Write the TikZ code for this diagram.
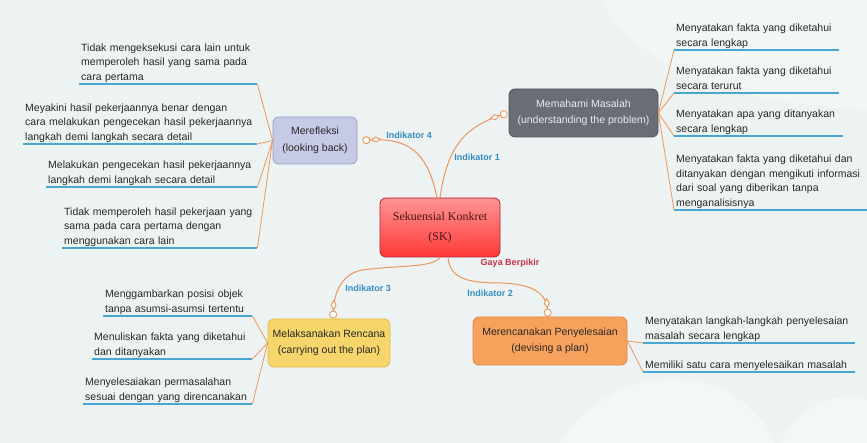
\documentclass[tikz,border=0pt]{standalone}
\usepackage{fontspec}
\setmainfont{Liberation Sans}
\newfontfamily\serifsk{Liberation Serif}
\usetikzlibrary{arrows.meta}
\definecolor{bg}{RGB}{237,243,242}
\definecolor{conn}{RGB}{236,150,92}
\definecolor{ulc}{RGB}{70,168,208}
\definecolor{lblue}{RGB}{56,140,196}
\definecolor{lred}{RGB}{206,50,72}
\definecolor{txt}{RGB}{40,40,40}
\definecolor{merfill}{RGB}{198,202,230}
\definecolor{merdraw}{RGB}{150,156,196}
\definecolor{memfill}{RGB}{106,109,118}
\definecolor{memdraw}{RGB}{80,83,90}
\definecolor{melfill}{RGB}{246,214,106}
\definecolor{meldraw}{RGB}{226,186,74}
\definecolor{mrcfill}{RGB}{247,162,92}
\definecolor{mrcdraw}{RGB}{226,134,70}
\definecolor{skdraw}{RGB}{176,34,48}
\definecolor{sktext}{RGB}{70,22,22}
\newcommand{\leafstrut}{\rule[-2.6pt]{0pt}{2pt}}
\tikzset{
  branch/.style={rounded corners=6pt, line width=0.8pt, align=center, inner sep=0pt,
    font=\fontsize{10.5}{16.5}\selectfont, text=txt},
  leaf/.style={font=\fontsize{10.5}{14.5}\selectfont, align=left, anchor=south west,
    inner xsep=2pt, inner ysep=1pt, text=txt},
  uline/.style={ulc, line width=2.6pt},
  leafconn/.style={conn, line width=0.8pt},
  mainconn/.style={conn, line width=1pt,
    -{Diamond[fill=white,length=11pt,width=6pt,line width=0.9pt] Circle[fill=white,length=8pt,line width=0.9pt]}},
  ind/.style={font=\bfseries\fontsize{9}{11}\selectfont, text=lblue, inner sep=1pt},
}
\begin{document}
\begin{tikzpicture}[x=1pt,y=-1pt]
\useasboundingbox (0,0) rectangle (867,443);
\fill[bg] (0,0) rectangle (867,443);
\fill[white,opacity=0.35] (560,443) .. controls (600,380) and (680,360) .. (740,400) .. controls (760,415) and (770,430) .. (775,443) -- cycle;
\fill[white,opacity=0.35] (780,443) .. controls (800,400) and (850,390) .. (867,400) -- (867,443) -- cycle;
\fill[white,opacity=0.3] (600,0) .. controls (640,60) and (700,100) .. (867,110) -- (867,0) -- cycle;

% central node
\node[rounded corners=6pt, draw=skdraw, line width=0.8pt, top color=red!42!white, bottom color=red!78!white,
  minimum width=120pt, minimum height=59pt, align=center, inner sep=0pt,
  font=\serifsk\fontsize{12}{20}\selectfont, text=sktext] (sk) at (440,227.5) {Sekuensial Konkret\\(SK)};

% branch nodes
\node[branch, fill=merfill, draw=merdraw, minimum width=84pt, minimum height=47pt] (mer) at (315,140.5) {Merefleksi\\(looking back)};
\node[branch, fill=memfill, draw=memdraw, text=white!92!black, minimum width=149pt, minimum height=48pt] (mem) at (583.5,113) {Memahami Masalah\\(understanding the problem)};
\node[branch, fill=melfill, draw=meldraw, minimum width=122pt, minimum height=48pt] (mel) at (329,343) {Melaksanakan Rencana\\(carrying out the plan)};
\node[branch, fill=mrcfill, draw=mrcdraw, minimum width=154pt, minimum height=48pt] (mrc) at (550,341) {Merencanakan Penyelesaian\\(devising a plan)};

% main connectors
\draw[mainconn] ([xshift=-3pt]sk.north) .. controls (429,160) and (415,137) .. ([xshift=5pt]mer.east);
\draw[mainconn] (sk.north) .. controls (447,150) and (462,128) .. ([xshift=-1pt]mem.west);
\draw[mainconn] (sk.south) .. controls (432,268) and (400,265) .. (362,270) .. controls (342,274) and (334,292) .. ([xshift=4pt]mel.north);
\draw[mainconn] ([xshift=8pt]sk.south) .. controls (450,280) and (470,283) .. (502,283) .. controls (532,284) and (546,293) .. ([xshift=-2pt]mrc.north);

% labels
\node[ind] (i4) at (409,135) {Indikator 4};
\node[ind] (i1) at (477,157) {Indikator 1};
\node[ind] (i3) at (368,288) {Indikator 3};
\node[ind] (i2) at (490,293) {Indikator 2};
\node[ind, text=lred] (gb) at (510,263) {Gaya Berpikir};

% Merefleksi leaves
\node[leaf, text width=174pt] (mr1) at (79,84) {Tidak mengeksekusi cara lain untuk\\memperoleh hasil yang sama pada\\cara pertama\leafstrut};
\node[leaf, text width=230pt] (mr2) at (23,144) {Meyakini hasil pekerjaannya benar dengan\\cara melakukan pengecekan hasil pekerjaannya\\langkah demi langkah secara detail\leafstrut};
\node[leaf, text width=207pt] (mr3) at (46,187) {Melakukan pengecekan hasil pekerjaannya\\langkah demi langkah secara detail\leafstrut};
\node[leaf, text width=191pt] (mr4) at (62,248) {Tidak memperoleh hasil pekerjaan yang\\sama pada cara pertama dengan\\menggunakan cara lain\leafstrut};
\foreach \l in {mr1,mr2,mr3,mr4}{
  \draw[uline] (\l.south west) -- (\l.south east);
  \draw[leafconn] (mer.west) -- (\l.south east);
}

% Memahami leaves
\node[leaf, text width=161pt] (mm1) at (674,50) {Menyatakan fakta yang diketahui\\secara lengkap\leafstrut};
\node[leaf, text width=161pt] (mm2) at (674,93) {Menyatakan fakta yang diketahui\\secara terurut\leafstrut};
\node[leaf, text width=165pt] (mm3) at (674,136) {Menyatakan apa yang ditanyakan\\secara lengkap\leafstrut};
\node[leaf, text width=189pt] (mm4) at (674,210) {Menyatakan fakta yang diketahui dan\\ditanyakan dengan mengikuti informasi\\dari soal yang diberikan tanpa\\menganalisisnya\leafstrut};
\foreach \l in {mm1,mm2,mm3,mm4}{
  \draw[uline] (\l.south west) -- (\l.south east);
  \draw[leafconn] (mem.east) -- (\l.south west);
}

% Melaksanakan leaves
\node[leaf, text width=145pt] (ml1) at (103,316) {Menggambarkan posisi objek\\tanpa asumsi-asumsi tertentu\leafstrut};
\node[leaf, text width=156pt] (ml2) at (92,359) {Menuliskan fakta yang diketahui\\dan ditanyakan\leafstrut};
\node[leaf, text width=165pt] (ml3) at (83,404) {Menyelesaiakan permasalahan\\sesuai dengan yang direncanakan\leafstrut};
\foreach \l in {ml1,ml2,ml3}{
  \draw[uline] (\l.south west) -- (\l.south east);
  \draw[leafconn] (mel.west) -- (\l.south east);
}

% Merencanakan leaves
\node[leaf, text width=208pt] (mc1) at (643,343) {Menyatakan langkah-langkah penyelesaian\\masalah secara lengkap\leafstrut};
\node[leaf, text width=208pt] (mc2) at (643,372) {Memiliki satu cara menyelesaikan masalah\leafstrut};
\foreach \l in {mc1,mc2}{
  \draw[uline] (\l.south west) -- (\l.south east);
  \draw[leafconn] (mrc.east) -- (\l.south west);
}
\end{tikzpicture}
\end{document}
